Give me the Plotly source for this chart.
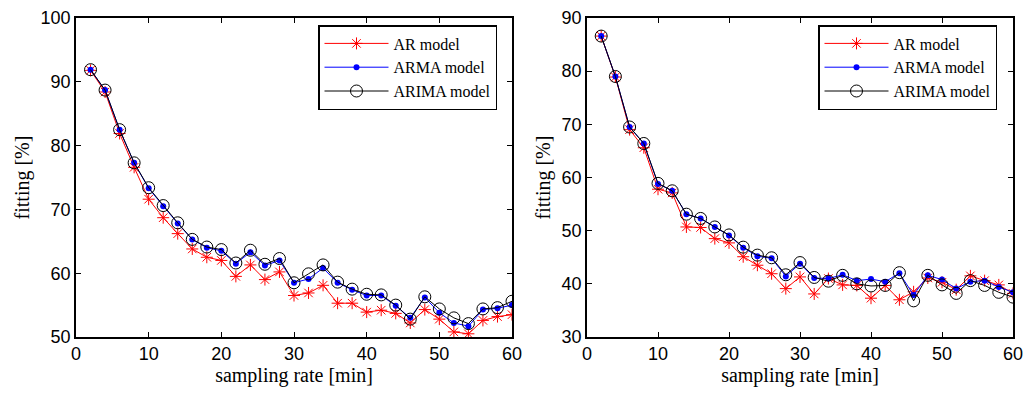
import plotly.graph_objects as go

rate = [2, 4, 6, 8, 10, 12, 14, 16, 18, 20, 22, 24, 26, 28, 30,
        32, 34, 36, 38, 40, 42, 44, 46, 48, 50, 52, 54, 56, 58, 60]

# Left panel
ar_left = [91.8, 88.4, 81.9, 76.6, 71.6, 68.7, 66.2, 63.8, 62.5, 62.0, 59.5, 61.3, 59.0, 60.2, 56.5,
           56.9, 58.1, 55.3, 55.3, 53.9, 54.2, 53.7, 52.2, 54.3, 52.8, 50.8, 50.5, 52.6, 53.2, 53.5]
arma_left = [91.9, 88.7, 82.5, 77.3, 73.3, 70.5, 67.8, 65.3, 64.0, 63.5, 61.5, 63.3, 61.2, 62.0, 58.5,
             59.1, 60.8, 58.5, 57.4, 56.5, 56.5, 54.9, 53.0, 56.2, 53.8, 52.2, 51.7, 54.3, 54.5, 55.0]
arima_left = [91.9, 88.7, 82.5, 77.3, 73.4, 70.6, 67.9, 65.3, 64.1, 63.7, 61.6, 63.6, 61.4, 62.3, 58.5,
              59.9, 61.3, 58.6, 57.5, 56.7, 56.6, 55.0, 52.8, 56.3, 54.4, 53.0, 52.1, 54.4, 54.6, 55.6]

# Right panel
ar_right = [86.6, 78.9, 69.0, 65.6, 57.8, 57.1, 50.7, 50.6, 48.5, 47.7, 45.1, 43.5, 41.9, 39.1, 41.3,
            38.1, 41.0, 39.8, 39.7, 37.3, 39.7, 37.0, 38.5, 41.1, 40.3, 38.9, 41.5, 40.6, 39.8, 38.2]
arma_right = [86.6, 79.0, 69.5, 66.4, 58.8, 57.5, 53.1, 52.3, 50.7, 49.1, 46.8, 45.2, 44.8, 41.4, 43.8,
              41.1, 41.0, 41.7, 40.6, 40.9, 40.4, 42.0, 37.9, 41.6, 40.8, 39.1, 40.4, 40.6, 39.4, 38.4]
arima_right = [86.6, 79.0, 69.5, 66.4, 58.9, 57.5, 53.1, 52.3, 50.7, 49.2, 46.9, 45.4, 44.9, 41.7, 44.0,
               41.2, 40.5, 41.6, 40.0, 39.6, 39.7, 42.1, 36.8, 41.6, 39.8, 38.2, 40.6, 39.7, 38.4, 37.5]

names = ["AR model", "ARMA model", "ARIMA model"]

fig = go.Figure()

def add_panel(xa, ya, legend, ar, arma, arima):
    fig.add_trace(go.Scatter(x=rate, y=ar, name=names[0], mode="lines+markers",
                             line=dict(color="#ff0000", width=1),
                             marker=dict(symbol="asterisk-open", size=10, color="#ff0000",
                                         line=dict(color="#ff0000", width=1)),
                             xaxis=xa, yaxis=ya, legend=legend))
    fig.add_trace(go.Scatter(x=rate, y=arma, name=names[1], mode="lines+markers",
                             line=dict(color="#0000ff", width=1),
                             marker=dict(symbol="circle", size=6, color="#0000ff"),
                             xaxis=xa, yaxis=ya, legend=legend))
    fig.add_trace(go.Scatter(x=rate, y=arima, name=names[2], mode="lines+markers",
                             line=dict(color="#000000", width=1),
                             marker=dict(symbol="circle-open", size=12, color="#000000",
                                         line=dict(color="#000000", width=1)),
                             xaxis=xa, yaxis=ya, legend=legend))

add_panel("x", "y", "legend", ar_left, arma_left, arima_left)
add_panel("x2", "y2", "legend2", ar_right, arma_right, arima_right)

tickfont = dict(family="Liberation Sans, Arial, sans-serif", size=18, color="black")
titlefont = dict(family="Liberation Serif, Times New Roman, serif", size=20, color="black")
axis_common = dict(showgrid=False, zeroline=False, showline=True, linecolor="black", linewidth=1.5,
                   mirror="ticks", ticks="inside", ticklen=5, tickcolor="black",
                   tickfont=tickfont, automargin=False)

W, H = 1028, 394
ydom = [1 - 337 / H, 1 - 18 / H]
legfont = dict(family="Liberation Serif, Times New Roman, serif", size=16, color="black")

fig.update_layout(
    width=W, height=H,
    margin=dict(l=0, r=0, t=0, b=0, autoexpand=False),
    paper_bgcolor="white", plot_bgcolor="white",
    xaxis=dict(domain=[76 / W, 512 / W], range=[0, 60], dtick=10, anchor="y",
               title=dict(text="sampling rate [min]", font=titlefont, standoff=1), **axis_common),
    yaxis=dict(domain=ydom, range=[50, 100], dtick=10, anchor="x",
               title=dict(text="fitting [%]", font=titlefont, standoff=6), **axis_common),
    xaxis2=dict(domain=[587 / W, 1013 / W], range=[0, 60], dtick=10, anchor="y2",
                title=dict(text="sampling rate [min]", font=titlefont, standoff=1), **axis_common),
    yaxis2=dict(domain=ydom, range=[30, 90], dtick=10, anchor="x2",
                title=dict(text="fitting [%]", font=titlefont, standoff=6), **axis_common),
    legend=dict(x=318 / W, y=1 - 25 / H, xanchor="left", yanchor="top",
                bordercolor="black", borderwidth=1.5, bgcolor="white",
                font=legfont, tracegroupgap=0, itemwidth=64),
    legend2=dict(x=818 / W, y=1 - 25 / H, xanchor="left", yanchor="top",
                 bordercolor="black", borderwidth=1.5, bgcolor="white",
                 font=legfont, tracegroupgap=0, itemwidth=64),
    showlegend=True,
)

fig.write_html("out.html", config={"displayModeBar": False},
               post_script="document.body.style.margin='0';document.body.style.overflow='hidden';")
